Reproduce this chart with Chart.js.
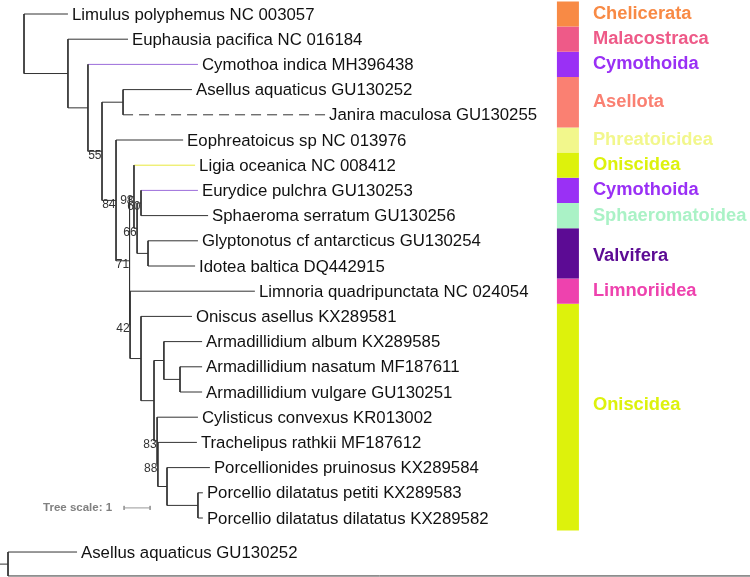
<!DOCTYPE html>
<html lang="en">
  <head>
    <meta charset="UTF-8" />
    <title>Isopoda phylogeny</title>
    <style>
      body {
        margin: 0;
        background: #fff;
      }
      #wrap {
        width: 750px;
        height: 577px;
      }
    </style>
    <script src="https://cdn.jsdelivr.net/npm/chart.js"></script>
  </head>
  <body>
    <div id="wrap"><canvas id="tree" width="750" height="577"></canvas></div>
    <script>
      // leaves, top to bottom (y = row index)
      const leafNames = [
        "Limulus polyphemus NC 003057",
        "Euphausia pacifica NC 016184",
        "Cymothoa indica MH396438",
        "Asellus aquaticus GU130252",
        "Janira maculosa GU130255",
        "Eophreatoicus sp NC 013976",
        "Ligia oceanica NC 008412",
        "Eurydice pulchra GU130253",
        "Sphaeroma serratum GU130256",
        "Glyptonotus cf antarcticus GU130254",
        "Idotea baltica DQ442915",
        "Limnoria quadripunctata NC 024054",
        "Oniscus asellus KX289581",
        "Armadillidium album KX289585",
        "Armadillidium nasatum MF187611",
        "Armadillidium vulgare GU130251",
        "Cylisticus convexus KR013002",
        "Trachelipus rathkii MF187612",
        "Porcellionides pruinosus KX289584",
        "Porcellio dilatatus petiti KX289583",
        "Porcellio dilatatus dilatatus KX289582",
      ];
      // distance from root (tree units)
      const leafDepth = [
        1.69, 4.0, 6.69, 6.46, 11.58, 6.12, 6.58, 6.69, 7.08, 6.69, 6.58,
        8.88, 6.46, 6.85, 6.85, 6.85, 6.69, 6.65, 7.15, 6.88, 6.88,
      ];

      // internal nodes: numbers in children are leaf rows, strings are nodes
      const nodeIds = ["root", "A", "B", "C", "D", "E", "F", "G", "H", "I", "J",
        "K", "L", "M", "N", "O", "P", "Q", "R", "S"];
      const nodeDepth = [0, 1.69, 2.46, 3.0, 3.81, 3.54, 4.06, 4.23, 4.35, 4.5,
        4.77, 4.08, 4.5, 5.0, 5.38, 6.0, 5.12, 5.15, 5.5, 6.69];
      const nodeChildren = [
        [0, "A"], [1, "B"], [2, "C"], ["D", "E"], [3, 4], [5, "F"], ["G", "K"],
        [6, "H"], ["I", "J"], [7, 8], [9, 10], [11, "L"], [12, "M"], ["N", "P"],
        [13, "O"], [14, 15], [16, "Q"], [17, "R"], [18, "S"], [19, 20],
      ];
      const nodeSupport = [null, null, null, 55, null, 84, 71, 98, 66, 60, null,
        42, null, null, null, null, 83, 88, null, null];

      // clade colour strip
      const groupNames = ["Chelicerata", "Malacostraca", "Cymothoida", "Asellota",
        "Phreatoicidea", "Oniscidea", "Cymothoida", "Sphaeromatoidea",
        "Valvifera", "Limnoriidea", "Oniscidea"];
      const groupFirst = [0, 1, 2, 3, 5, 6, 7, 8, 9, 11, 12];
      const groupLast = [0, 1, 2, 4, 5, 6, 7, 8, 10, 11, 20];

      // tree scale bar length and the stray second tree at the bottom
      const treeScale = 1;
      const outgroupName = "Asellus aquaticus GU130252";
      const outgroupDepth = 2.04;

      // ---- styling ----
      const groupColors = ["#f88a45", "#ee5a88", "#9a30f5", "#fa8072", "#f2f78c",
        "#ddf20c", "#9a30f5", "#aaf2c6", "#5c0b94", "#ee42ae", "#ddf20c"];
      const labelNudge = { 8: 3, 10: -12 }; // px
      const branchColor = { 2: "#9c6ddb", 6: "#e8e83c", 7: "#9c6ddb" };
      const dashedLeaf = 4;
      const LINE = "#333";
      const STRIP_X = 20.92;
      const X_MIN = -24 / 26, X_MAX = (750 - 24) / 26;
      const Y_MIN = -14 / 25.2, Y_MAX = (577 - 14) / 25.2;

      const yCache = {};
      function rowOf(key) {
        if (typeof key === "number") return key;
        if (yCache[key] != null) return yCache[key];
        const kids = nodeChildren[nodeIds.indexOf(key)];
        const y = (rowOf(kids[0]) + rowOf(kids[kids.length - 1])) / 2;
        yCache[key] = y;
        return y;
      }
      function depthOf(key) {
        return typeof key === "number" ? leafDepth[key] : nodeDepth[nodeIds.indexOf(key)];
      }

      const GAP = { x: null, y: null };
      const plain = [];
      const special = {};
      nodeIds.forEach((id, n) => {
        const d = nodeDepth[n];
        const kids = nodeChildren[n];
        plain.push({ x: d, y: rowOf(kids[0]) }, { x: d, y: rowOf(kids[kids.length - 1]) }, GAP);
        kids.forEach((k) => {
          const seg = [{ x: d, y: rowOf(k) }, { x: depthOf(k), y: rowOf(k) }];
          if (typeof k === "number" && (branchColor[k] || k === dashedLeaf)) {
            special[k] = seg;
          } else {
            plain.push(...seg, GAP);
          }
        });
      });

      function lineSet(data, color, width, extra) {
        return Object.assign({
          data: data,
          showLine: true,
          borderColor: color,
          borderWidth: width,
          pointRadius: 0,
          tension: 0,
          clip: false,
        }, extra || {});
      }

      const datasets = [];
      groupNames.forEach((g, i) => {
        datasets.push(lineSet([
          { x: STRIP_X, y: groupFirst[i] - 0.5 },
          { x: STRIP_X, y: groupLast[i] + 0.5 },
        ], groupColors[i], 22, { borderCapStyle: "butt" }));
      });
      datasets.push(lineSet(plain, LINE, 1));
      Object.keys(special).forEach((k) => {
        const i = Number(k);
        if (i === dashedLeaf) {
          datasets.push(lineSet(special[k], LINE, 1, { borderDash: [10, 6] }));
        } else {
          datasets.push(lineSet(special[k], branchColor[i], 1));
        }
      });

      // scale bar
      const barX = 3.85, barY = 19.6;
      datasets.push(lineSet([
        { x: barX, y: barY - 0.08 }, { x: barX, y: barY + 0.08 }, GAP,
        { x: barX, y: barY }, { x: barX + treeScale, y: barY }, GAP,
        { x: barX + treeScale, y: barY - 0.08 }, { x: barX + treeScale, y: barY + 0.08 },
      ], "#999", 1));

      // stray outgroup tree along the bottom edge
      const outRow = 21.35, baseRow = 22.3, stemX = -0.615;
      datasets.push(lineSet([
        { x: X_MIN, y: 21.83 }, { x: stemX, y: 21.83 }, GAP,
        { x: outgroupDepth, y: outRow }, { x: stemX, y: outRow }, { x: stemX, y: baseRow }, { x: X_MAX + 1, y: baseRow },
      ], LINE, 1));

      const textPlugin = {
        id: "treeText",
        afterDatasetsDraw(chart) {
          const { ctx } = chart;
          const xs = chart.scales.x, ys = chart.scales.y;
          ctx.save();
          ctx.textBaseline = "middle";
          ctx.textAlign = "left";
          ctx.fillStyle = "#111";
          ctx.font = '16.8px "Liberation Sans", Arial, sans-serif';
          leafNames.forEach((name, i) => {
            ctx.fillText(name, xs.getPixelForValue(leafDepth[i]) + 4, ys.getPixelForValue(i) + 1);
          });
          ctx.fillText(outgroupName, xs.getPixelForValue(outgroupDepth) + 4, ys.getPixelForValue(outRow) + 1);

          ctx.font = '12px "Liberation Sans", Arial, sans-serif';
          ctx.fillStyle = "#333";
          ctx.textAlign = "right";
          nodeIds.forEach((id, n) => {
            if (nodeSupport[n] == null) return;
            ctx.fillText(String(nodeSupport[n]), xs.getPixelForValue(nodeDepth[n]) - 0.5, ys.getPixelForValue(rowOf(id)) + 4);
          });

          ctx.font = 'bold 11.5px "Liberation Sans", Arial, sans-serif';
          ctx.fillStyle = "#808080";
          ctx.fillText("Tree scale: " + treeScale, xs.getPixelForValue(barX) - 12, ys.getPixelForValue(barY));

          ctx.textAlign = "left";
          ctx.font = 'bold 18.3px "Liberation Sans", Arial, sans-serif';
          groupNames.forEach((g, i) => {
            const mid = (groupFirst[i] + groupLast[i]) / 2;
            ctx.fillStyle = groupColors[i];
            ctx.fillText(g, xs.getPixelForValue(STRIP_X) + 25, ys.getPixelForValue(mid) + (labelNudge[i] || 0));
          });
          ctx.restore();
        },
      };

      new Chart(document.getElementById("tree").getContext("2d"), {
        type: "scatter",
        data: { datasets: datasets },
        options: {
          responsive: false,
          animation: false,
          events: [],
          layout: { padding: 0 },
          plugins: { legend: { display: false }, tooltip: { enabled: false } },
          scales: {
            x: { type: "linear", display: false, min: X_MIN, max: X_MAX },
            y: { type: "linear", display: false, reverse: true, min: Y_MIN, max: Y_MAX },
          },
        },
        plugins: [textPlugin],
      });
    </script>
  </body>
</html>
